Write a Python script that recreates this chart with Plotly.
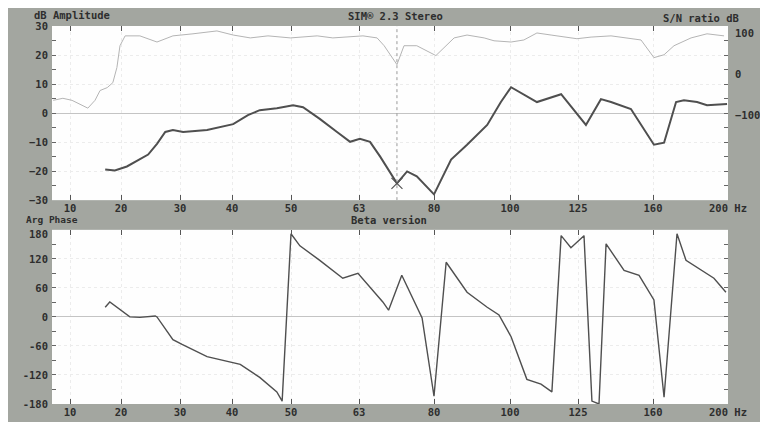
import numpy as np
import plotly.graph_objects as go

# ---- axis definition (analyser frequency axis) ----
TICK_HZ = [10, 20, 30, 40, 50, 63, 80, 100, 125, 160, 200]
TICK_TEXT = ["10", "20", "30", "40", "50", "63", "80", "100", "125", "160", "200 Hz"]
AXIS_STOPS = [0, 51, 110, 162, 221, 289, 364, 440, 508, 583, 658]  # warped frequency scale
PHASE_TICKS = [-180, -120, -60, 0, 60, 120, 180]


def warp(f):
    f = np.asarray(f, dtype=float)
    lo_slope = (AXIS_STOPS[1] - AXIS_STOPS[0]) / (TICK_HZ[1] - TICK_HZ[0])
    out = np.interp(f, TICK_HZ, AXIS_STOPS)
    out = np.where(f < TICK_HZ[0], AXIS_STOPS[0] + (f - TICK_HZ[0]) * lo_slope, out)
    return out


# ---- data ----
snr_hz = [6.7, 8.6, 10.4, 13.5, 14.9, 15.9, 17.3, 18.4, 19.2, 19.8, 20.7, 23.2, 26.1, 28.8,
          32.5, 37.1, 40.2, 43.1, 46.1, 49.9, 55, 58, 63.9, 67.1, 68.7, 71.6, 73.2, 76.1,
          80.5, 85.3, 88.7, 93.2, 95.8, 100.4, 105.1, 109.9, 115.1, 124.6, 131.1, 140.4,
          154.4, 160.5, 165.9, 171.2, 180.3, 188.8, 197.9]
snr_db = [-64, -59, -64, -83, -64, -40, -33, -21, 16, 69, 93, 93, 78, 93,
          98, 105, 95, 88, 93, 88, 93, 88, 93, 88, 69, 23, 69, 69,
          45, 88, 95, 88, 81, 78, 83, 100, 95, 86, 90, 93,
          83, 40, 47, 69, 88, 98, 93]

amp_hz = [16.9, 18.8, 21.0, 23.2, 24.6, 26.1, 27.5, 28.8, 30.6, 35.2, 40.2, 42.7, 44.7,
          47.6, 50.4, 52.3, 55.5, 58.8, 61.3, 63.2, 65.5, 67.8, 71.6, 73.9, 76.1, 80,
          84.5, 88.7, 94, 97.6, 100.4, 109.9, 118.8, 128.7, 135.7, 140.4, 149.7, 160.5,
          165.9, 172.3, 176.5, 183.5, 188.8, 199.5]
amp_db = [-19.4, -19.8, -18.4, -16.0, -14.3, -10.6, -6.5, -5.8, -6.5, -5.8, -3.8, -0.7, 1.0,
          1.7, 2.7, 2.0, -2.0, -6.5, -9.9, -8.9, -9.9, -15.0, -24.2, -20.1, -21.8, -28.0,
          -16.0, -10.9, -4.1, 3.8, 8.9, 3.8, 6.5, -4.1, 4.8, 3.8, 1.4, -10.9,
          -10.2, 3.8, 4.4, 3.8, 2.7, 3.1]

ph_hz = [16.9, 17.8, 21.5, 23.2, 25.8, 26.1, 28.8, 30.4, 35.2, 40.2, 41.4, 44.7, 47.6, 48.5,
         50.0, 51.7, 55.5, 59.9, 62.8, 68.4, 69.7, 72.7, 77.3, 80.0, 83.2, 88.7, 94.0, 97.1,
         100.4, 106.2, 111.4, 115.4, 118.8, 122.4, 127.8, 131.5, 134.8, 138.1, 146.5, 153.5,
         160.5, 165.9, 172.8, 177.6, 192.5, 198.9]
ph_deg = [20, 31, 0, -1, 2, 0, -47, -57, -82, -94, -98, -125, -155, -174,
          172, 147, 117, 80, 90, 31, 14, 86, -2, -164, 113, 51, 20, 4,
          -41, -129, -139, -155, 168, 143, 168, -174, -180, 151, 96, 86,
          35, -166, 172, 117, 80, 51]

cursor_hz = 71.6
cursor_db = -24.2

# ---- styling ----
BG = "#a3a6a0"
TXT = "#2e2e2e"
FONT = "DejaVu Sans Mono"
OFF = 8  # page body margin: screenshot px = figure px + OFF
W, H = 768, 422
L, R, T, B = 52 - OFF, W - (728 - OFF), 23 - OFF, H - (405 - OFF)
PW, PH = W - L - R, H - T - B


def px(xs):  # screenshot x -> paper
    return (xs - OFF - L) / PW


def py(ys):  # screenshot y -> paper
    return (H - B - (ys - OFF)) / PH


top_dom = [py(199), 1.0]
bot_dom = [0.0, py(229)]
xr = [-18, 658]

fig = go.Figure()
fig.add_trace(go.Scatter(x=warp(snr_hz), y=snr_db, mode="lines", xaxis="x", yaxis="y2",
                         line=dict(color="#b4b4b4", width=1), hoverinfo="skip"))
fig.add_trace(go.Scatter(x=warp(amp_hz), y=amp_db, mode="lines", xaxis="x", yaxis="y",
                         line=dict(color="#4f4f4f", width=2), hoverinfo="skip"))
fig.add_trace(go.Scatter(x=warp([cursor_hz]), y=[cursor_db], mode="markers", xaxis="x", yaxis="y",
                         marker=dict(symbol="x-thin", size=11, line=dict(color="#555", width=1.2)),
                         hoverinfo="skip"))
fig.add_trace(go.Scatter(x=warp(ph_hz), y=ph_deg, mode="lines", xaxis="x2", yaxis="y3",
                         line=dict(color="#4f4f4f", width=1.4), hoverinfo="skip"))

tickfont = dict(family=FONT, size=10.5, color=TXT, weight="bold")
xcommon = dict(range=xr, tickvals=warp(TICK_HZ), ticktext=TICK_TEXT, ticks="inside", ticklen=5,
               tickcolor="#555", mirror="ticks", showline=False, showgrid=True, gridcolor="#ececec",
               griddash="dot", zeroline=False, tickfont=tickfont, ticklabelstandoff=0)
# top phase label is drawn separately (slightly lowered) to keep clear of the panel caption
phase_text = [str(v) if v != PHASE_TICKS[-1] else "" for v in PHASE_TICKS]
fig.update_layout(
    width=W, height=H, margin=dict(l=L, r=R, t=T, b=B),
    paper_bgcolor=BG, plot_bgcolor="#fefefe", showlegend=False,
    xaxis=dict(domain=[0, 1], anchor="y", **xcommon),
    xaxis2=dict(domain=[0, 1], anchor="y3", **xcommon),
    yaxis=dict(domain=top_dom, range=[-30, 30], tickvals=[-30, -20, -10, 0, 10, 20, 30],
               ticks="inside", ticklen=4, tickcolor="#666", mirror="allticks",
               minor=dict(dtick=5, ticks="inside", ticklen=4, tickcolor="#666", showgrid=False),
               showgrid=True, gridcolor="#ececec", griddash="dot",
               zeroline=True, zerolinecolor="#c4c4c4", zerolinewidth=1,
               tickfont=tickfont, ticklabelstandoff=3),
    yaxis2=dict(overlaying="y", side="right", range=[-307, 117], tickvals=[-100, 0, 100],
                ticks="", showgrid=False, zeroline=False, tickfont=tickfont, ticklabelstandoff=6),
    yaxis3=dict(domain=bot_dom, range=[-180, 180], tickvals=PHASE_TICKS, ticktext=phase_text,
                ticks="inside", ticklen=4, tickcolor="#666", mirror="allticks",
                minor=dict(dtick=30, ticks="inside", ticklen=4, tickcolor="#666", showgrid=False),
                showgrid=True, gridcolor="#ececec", griddash="dot",
                zeroline=True, zerolinecolor="#c4c4c4", zerolinewidth=1,
                tickfont=tickfont, ticklabelstandoff=3, anchor="x2"),
)

# cursor line
fig.add_shape(type="line", xref="x", yref="y", x0=float(warp(cursor_hz)), x1=float(warp(cursor_hz)),
              y0=-30, y1=30, line=dict(color="#9a9a9a", width=1, dash="dot"))

hfont = dict(family=FONT, size=10.5, color=TXT, weight="bold")
for text, xs, ys, anchor, sz in [("dB Amplitude", 33, 12, "left", 10.5),
                                 ("SIM® 2.3 Stereo", 395, 13, "center", 10.5),
                                 ("S/N ratio dB", 662, 15, "left", 10.5),
                                 ("Arg Phase", 25, 219, "left", 9.5),
                                 ("Beta version", 389, 219, "center", 10.5),
                                 (str(PHASE_TICKS[-1]), 49, 233, "right", 10.5)]:
    fig.add_annotation(text=text, xref="paper", yref="paper", x=px(xs), y=py(ys),
                       xanchor=anchor, yanchor="middle", showarrow=False, borderpad=0,
                       font=dict(hfont, size=sz))

fig.write_html("out.html")
